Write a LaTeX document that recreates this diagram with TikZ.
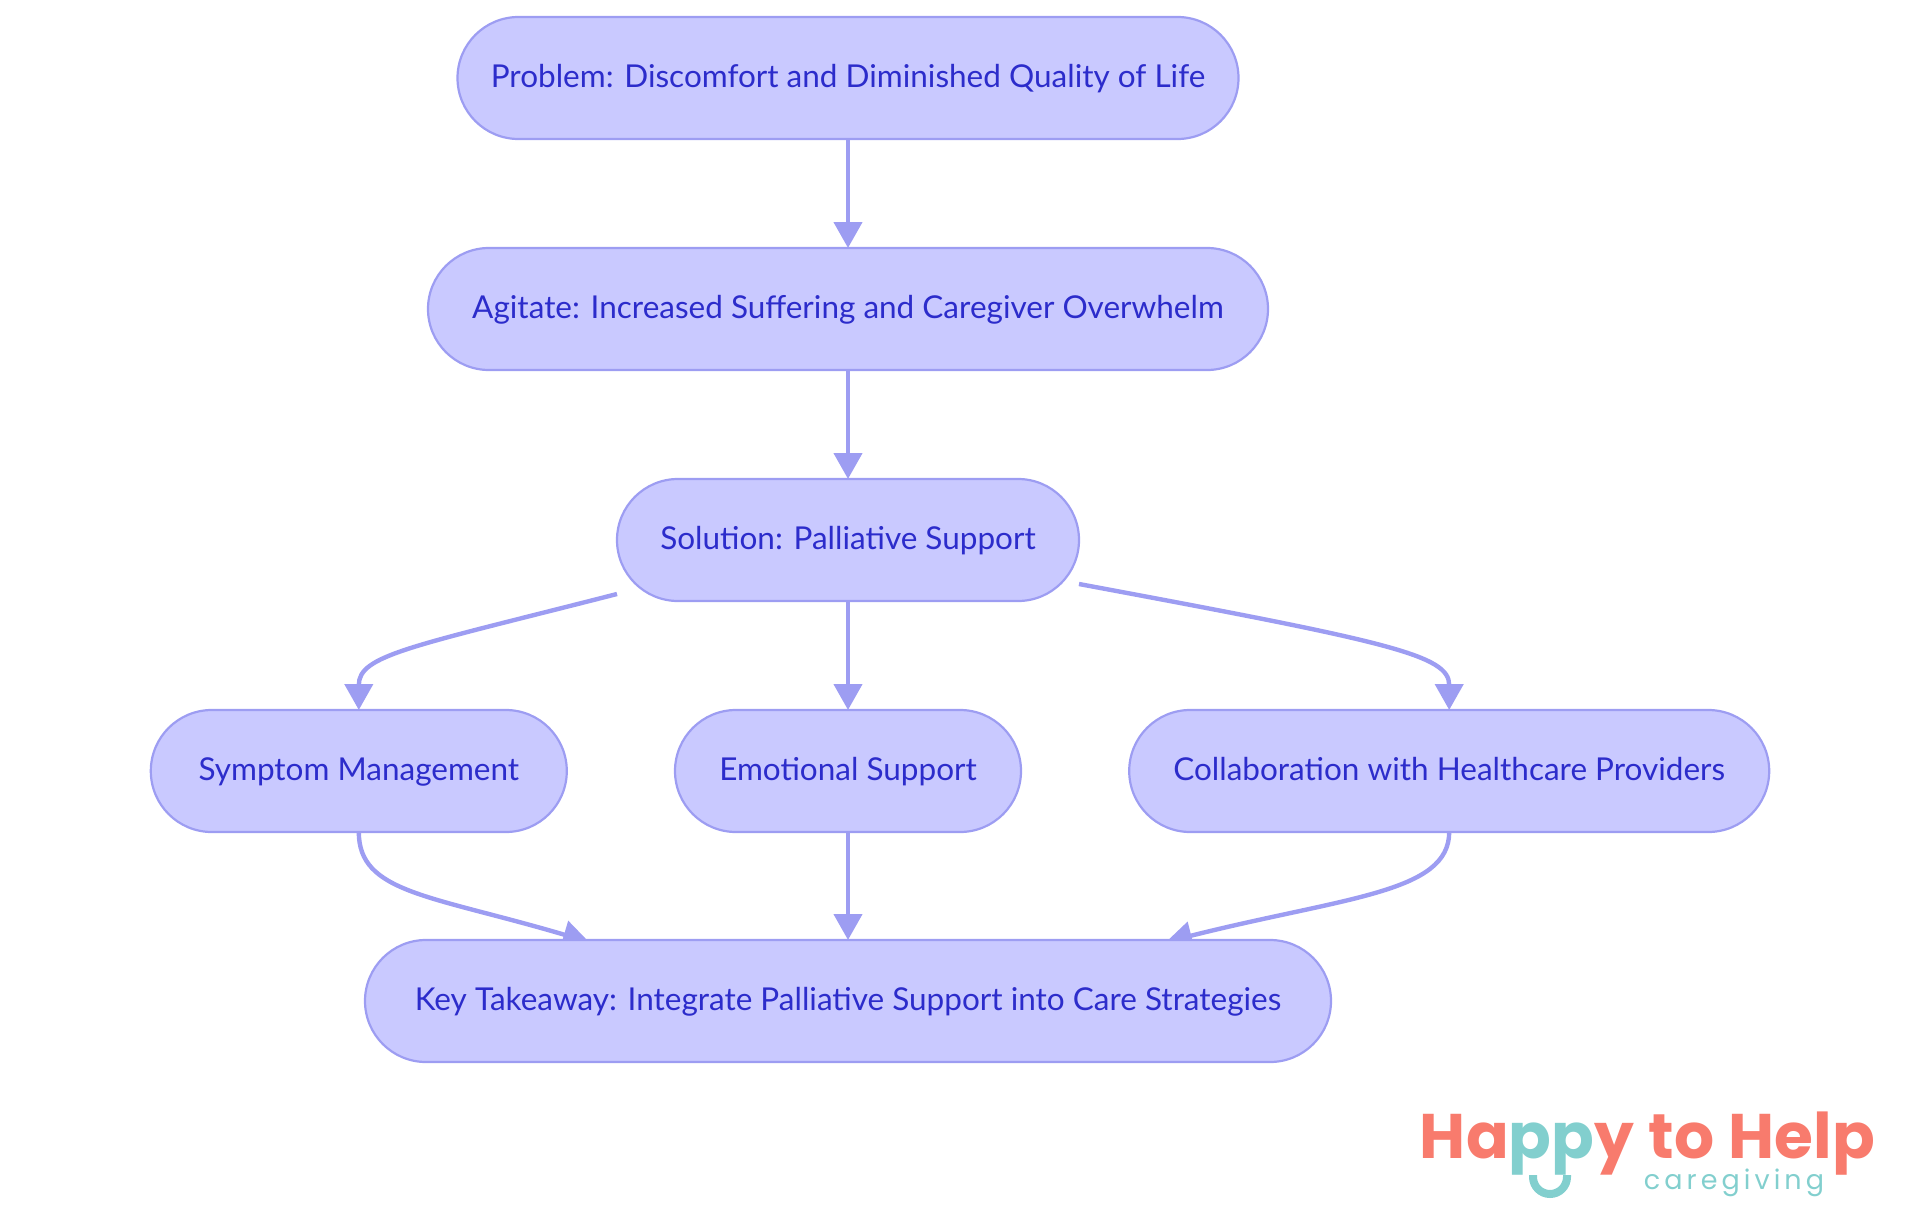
\documentclass[tikz,border=0pt]{standalone}
\usepackage{fontspec}
\setmainfont{Lato}
\newfontfamily\logofont{Poppins}
\usetikzlibrary{arrows.meta,backgrounds}
\definecolor{nodefill}{HTML}{C9C9FF}
\definecolor{nodeline}{HTML}{9D9DF2}
\definecolor{nodetext}{HTML}{2C2CCB}
\definecolor{logocoral}{HTML}{F87B6D}
\definecolor{logoteal}{HTML}{82CFCE}
\tikzset{
  pill/.style={draw=nodeline, fill=nodefill, text=nodetext, line width=2.2pt, rounded corners=61pt,
    minimum height=122pt, outer sep=0pt, inner sep=0pt, text height=24pt, text depth=5.4pt,
    font=\fontsize{31.5}{34}\selectfont},
  link/.style={draw=nodeline, line width=4.4pt, -{Triangle[length=26pt,width=28pt]}}
}
\begin{document}
\begin{tikzpicture}[x=1pt, y=1pt]
  \useasboundingbox (0,0) rectangle (1920,-1215);

  % rows of nodes
  \node[pill, minimum width=781pt] (problem) at (848,-78) {Problem: Discomfort and Diminished Quality of Life};
  \node[pill, minimum width=840pt] (agitate) at (848,-309) {Agitate: Increased Suffering and Caregiver Overwhelm};
  \node[pill, minimum width=462pt] (solution) at (848,-540) {Solution: Palliative Support};
  \node[pill, minimum width=416pt] (symptom) at (358.8,-771) {Symptom Management};
  \node[pill, minimum width=346pt] (emotional) at (848,-771) {Emotional Support};
  \node[pill, minimum width=640pt] (collab) at (1449.2,-771) {Collaboration with Healthcare Providers};
  \node[pill, minimum width=966pt] (takeaway) at (848,-1001) {Key Takeaway: Integrate Palliative Support into Care Strategies};

  % free ends of the curved links
  \coordinate (solutionleft) at ([yshift=7pt]solution.south west);
  \coordinate (solutionright) at ([yshift=17pt]solution.south east);
  \coordinate (takeleft) at ([xshift=224pt,yshift=-2pt]takeaway.north west);
  \coordinate (takeright) at ([xshift=-165pt,yshift=-2pt]takeaway.north east);

  % links, under the nodes
  \begin{scope}[on background layer]
    \draw[link] (problem) -- (agitate);
    \draw[link] (agitate) -- (solution);
    \draw[link] (solution) -- (emotional);
    \draw[link] (emotional) -- (takeaway);
    \draw[link] (solutionleft) .. controls (410,-647) and (358.8,-655) .. (symptom.north);
    \draw[link] (solutionright) .. controls (1390,-642) and (1449.2,-655) .. (collab.north);
    \draw[link] (symptom.south) .. controls (358.8,-893) and (430,-895) .. (takeleft);
    \draw[link] (collab.south) .. controls (1449.2,-893) and (1345,-897) .. (takeright);
  \end{scope}

  % logo
  \node[text=logocoral, inner sep=0pt, anchor=base, font=\logofont\bfseries\fontsize{63}{70}\selectfont\addfontfeature{LetterSpace=0.6}] (logotext) at (1647.5,-1158)
    {Ha\textcolor{logoteal}{pp}y to Help};
  \node[text=logoteal, inner sep=0pt, anchor=base, font=\logofont\fontsize{27}{30}\selectfont\addfontfeature{LetterSpace=15}] (logosub) at (1734,-1189) {caregiving};
  \draw[logoteal, line width=8pt] (1533,-1175) -- (1533,-1177) arc[start angle=180, end angle=360, radius=17] -- (1567,-1175);
\end{tikzpicture}
\end{document}
